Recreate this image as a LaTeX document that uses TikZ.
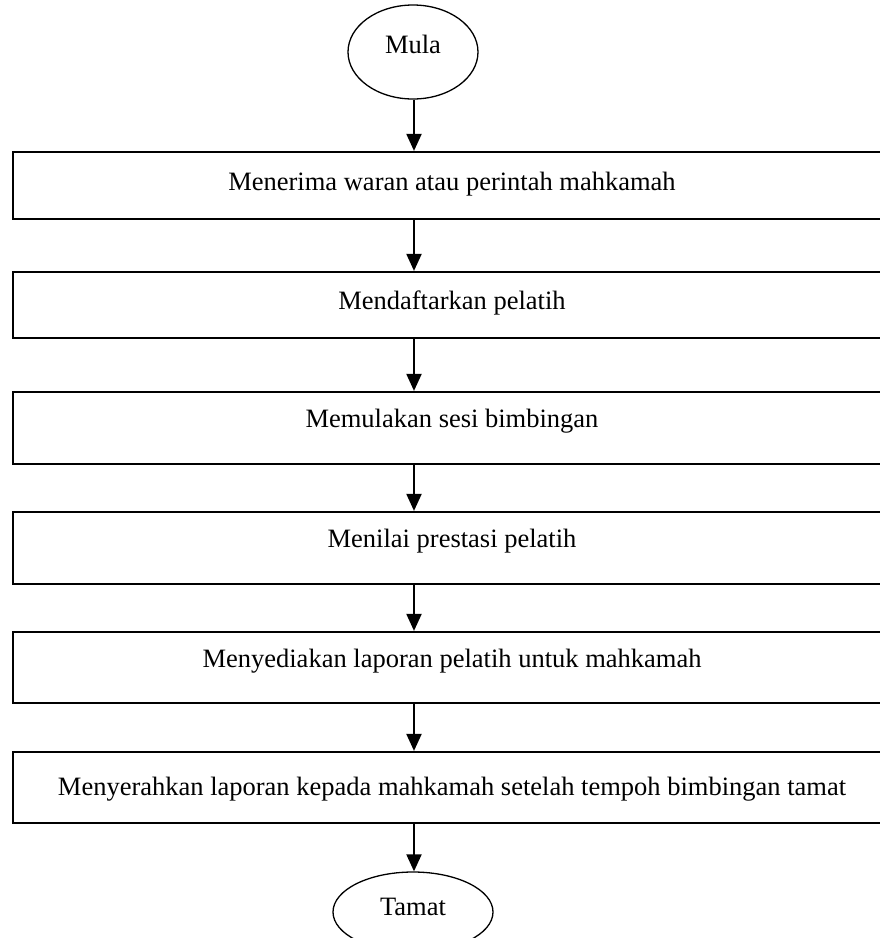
\documentclass[tikz,border=0pt]{standalone}
\usepackage{fontspec}
\setmainfont{Liberation Serif}
\usetikzlibrary{shapes.geometric,arrows.meta}
\tikzset{
  stepbox/.style={draw, rectangle, line width=2.2pt, minimum width=878pt, inner sep=0pt},
  term/.style={draw, ellipse, line width=1.3pt, inner sep=0pt},
  lbl/.style={font=\fontsize{26.5}{30}\selectfont, anchor=base, inner sep=0pt},
  arr/.style={-{Triangle[width=15pt,length=17pt]}, line width=2pt}
}
\begin{document}
\begin{tikzpicture}[x=1pt,y=-1pt]
\useasboundingbox (0,0) rectangle (880,938);
\clip (0,0) rectangle (880,938);
\fill[white] (0,0) rectangle (880,938);
% terminals
\node[term, minimum width=130pt, minimum height=94pt] (mula) at (413,52) {};
\node[term, minimum width=160pt, minimum height=80pt] (tamat) at (413,912) {};
\node[lbl] (tmula) at (413,53) {Mula};
\node[lbl] (ttamat) at (413,915) {Tamat};
% boxes
\node[stepbox, minimum height=67pt] (b1) at (452,185.5) {};
\node[stepbox, minimum height=66pt] (b2) at (452,305) {};
\node[stepbox, minimum height=72pt] (b3) at (452,428) {};
\node[stepbox, minimum height=72pt] (b4) at (452,548) {};
\node[stepbox, minimum height=71pt] (b5) at (452,667.5) {};
\node[stepbox, minimum height=71pt] (b6) at (452,787.5) {};
\node[lbl] (t1) at (452,190) {Menerima waran atau perintah mahkamah};
\node[lbl] (t2) at (452,309) {Mendaftarkan pelatih};
\node[lbl] (t3) at (452,427) {Memulakan sesi bimbingan};
\node[lbl] (t4) at (452,547) {Menilai prestasi pelatih};
\node[lbl] (t5) at (452,667) {Menyediakan laporan pelatih untuk mahkamah};
\node[lbl] (t6) at (452,795) {Menyerahkan laporan kepada mahkamah setelah tempoh bimbingan tamat};
% arrows
\coordinate (ax) at (414,0);
\draw[arr] (ax |- mula.south) -- (ax |- b1.north);
\draw[arr] (ax |- b1.south) -- (ax |- b2.north);
\draw[arr] (ax |- b2.south) -- (ax |- b3.north);
\draw[arr] (ax |- b3.south) -- (ax |- b4.north);
\draw[arr] (ax |- b4.south) -- (ax |- b5.north);
\draw[arr] (ax |- b5.south) -- (ax |- b6.north);
\draw[arr] (ax |- b6.south) -- (ax |- tamat.north);
\end{tikzpicture}
\end{document}
